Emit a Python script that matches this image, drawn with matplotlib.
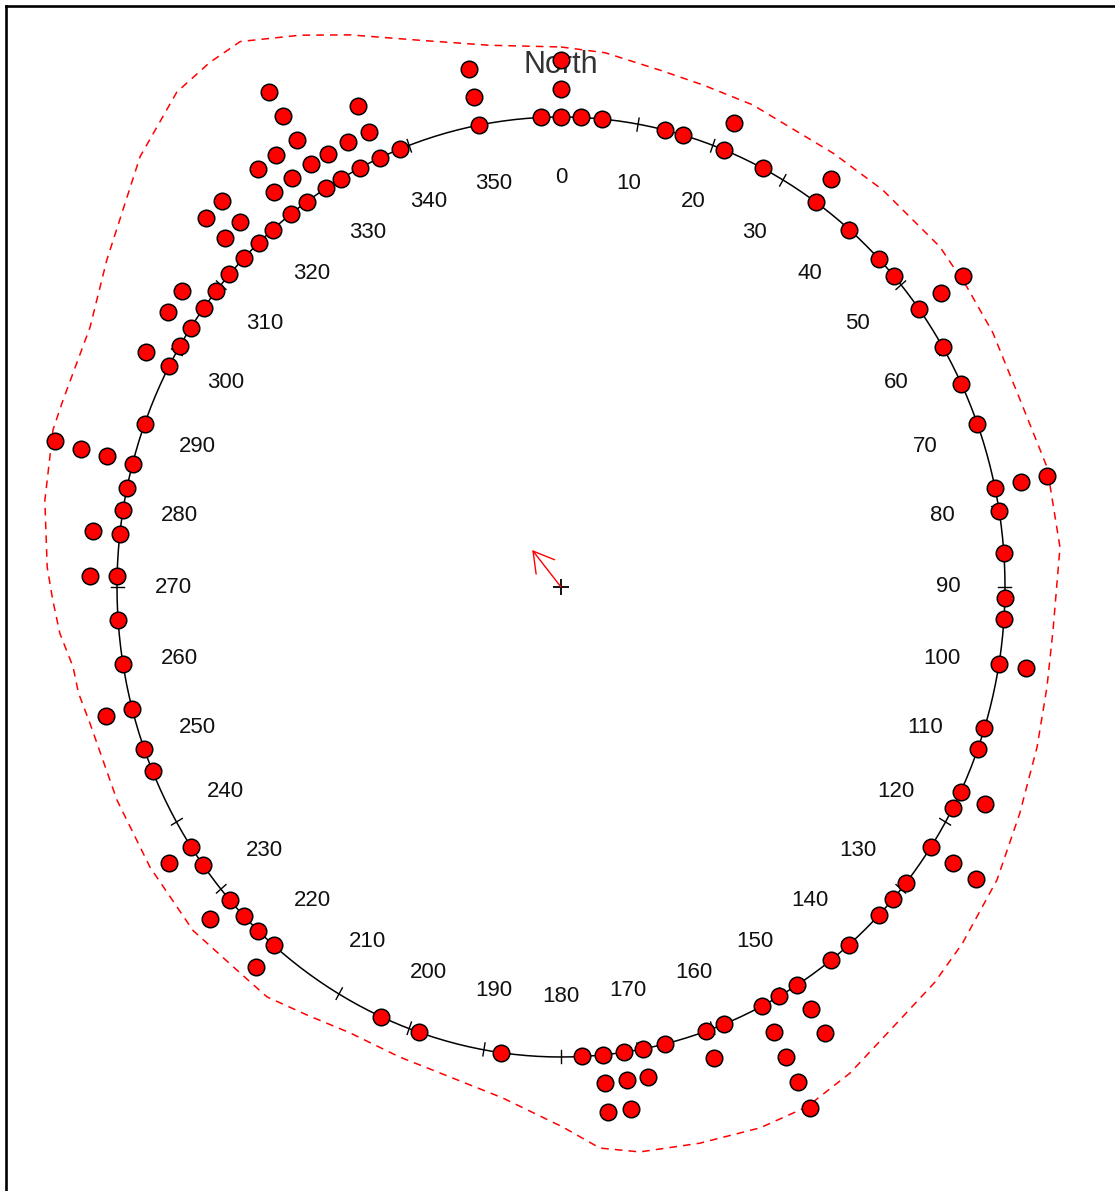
import numpy as np
import matplotlib
matplotlib.use("Agg")
import matplotlib.pyplot as plt
from matplotlib.lines import Line2D

plt.rcParams['font.family'] = ['Liberation Sans', 'DejaVu Sans']

# Observations (degrees, clockwise from North) and how many fall on each
angles = [0, 2.6, 5.3, 13.5, 16.0, 21.5, 27.0, 35.0, 40.5, 45.7, 48.5, 53.8,
          59.3, 64.4, 69.7, 77.8, 80.7, 85.9, 91.4, 93.9, 99.4, 107.5, 110.1,
          115.8, 118.1, 123.6, 129.0, 131.6, 134.3, 139.6, 142.5, 147.9, 150.6,
          153.1, 158.5, 161.0, 166.5, 169.3, 171.9, 174.6, 177.3, 187.8, 198.7,
          203.9, 220.3, 223.0, 225.6, 228.2, 233.7, 236.4, 246.9, 249.9, 255.0,
          260.6, 266.0, 271.3, 276.5, 279.4, 282.2, 285.2, 290.3, 298.1, 300.9,
          303.5, 306.4, 309.1, 311.7, 314.5, 317.1, 319.5, 322.5, 325.1, 328.0,
          330.3, 333.1, 335.9, 338.8, 349.3, 357.4]
counts = [3, 1, 1, 1, 1, 2, 1, 2, 1, 1, 1, 3,
          1, 1, 1, 3, 1, 1, 1, 1, 2, 1, 1,
          2, 1, 3, 1, 1, 1, 1, 1, 3, 1,
          5, 1, 2, 1, 2, 3, 3, 1, 1, 1,
          1, 2, 1, 1, 2, 1, 2, 1, 1, 2,
          1, 1, 2, 2, 1, 1, 4, 1, 2, 1,
          2, 2, 1, 1, 3, 3, 1, 3, 3, 5,
          2, 2, 3, 1, 3, 1]

# Density curve (angle, radius on the plot)
dens_deg = [0, 5, 11.5, 16.7, 22.8, 33.6, 40.6, 49.7, 55.1, 60.9, 68.9, 76.9,
            85.7, 94.7, 101, 107.6, 115, 122.4, 130, 135, 140.8, 147.8, 153.4,
            158.7, 165.2, 171.6, 175.8, 179.8, 186.9, 193.5, 200, 206.6, 212,
            217.2, 221.4, 228.6, 237.2, 245.6, 254.8, 258.3, 261.2, 265, 268.6,
            272.1, 279, 286.3, 289.5, 297.5, 304.2, 314, 320.6, 324.7, 328.1,
            333.4, 338, 344.7, 352]
dens_r = [1.149, 1.141, 1.122, 1.115, 1.113, 1.108, 1.113, 1.119, 1.115, 1.113,
          1.108, 1.124, 1.127, 1.112, 1.115, 1.125, 1.140, 1.163, 1.180, 1.190,
          1.197, 1.222, 1.237, 1.235, 1.224, 1.215, 1.197, 1.149, 1.095, 1.072,
          1.064, 1.061, 1.075, 1.095, 1.094, 1.105, 1.101, 1.098, 1.100, 1.110,
          1.112, 1.133, 1.145, 1.158, 1.177, 1.192, 1.190, 1.196, 1.237, 1.318,
          1.363, 1.368, 1.367, 1.313, 1.267, 1.206, 1.164]

# Mean resultant vector
mean_dir = 320.5
mean_rho = 0.102

tick_deg = list(range(0, 360, 10))
tick_labels = [str(d) for d in tick_deg]


def polar_xy(deg, r):
    t = np.radians(np.asarray(deg, dtype=float))
    return r * np.sin(t), r * np.cos(t)


fig = plt.figure(figsize=(11.15, 11.91), dpi=100)
ax = fig.add_axes([0, 0, 1, 1])
ax.set_xlim(-561 / 444, (1115 - 561) / 444)
ax.set_ylim((587 - 1191) / 470, 587 / 470)
ax.axis("off")

# frame (left and top edges only)
fig.add_artist(Line2D([5.5 / 1115, 5.5 / 1115], [0, 1 - 5.5 / 1191],
                      transform=fig.transFigure, color="black", lw=1.9))
fig.add_artist(Line2D([5.5 / 1115, 1], [1 - 5.5 / 1191, 1 - 5.5 / 1191],
                      transform=fig.transFigure, color="black", lw=1.9))

# unit circle
th = np.linspace(0, 360, 721)
cx, cy = polar_xy(th, 1.0)
ax.plot(cx, cy, color="black", lw=1.1, zorder=2)

# ticks and labels
for d, lab in zip(tick_deg, tick_labels):
    x0, y0 = polar_xy(d, 0.985)
    x1, y1 = polar_xy(d, 1.013)
    ax.plot([x0, x1], [y0, y1], color="black", lw=1.0, zorder=2)
    lx, ly = polar_xy(d, 0.872)
    ax.text(lx, ly, lab, ha="center", va="center", fontsize=16,
            color="#111111")

ax.text(0, 1.094, "North", ha="center", va="baseline", fontsize=22,
        color="#333333", zorder=1)

# stacked points
step = 0.0605
px, py = [], []
for a, c in zip(angles, counts):
    for k in range(c):
        x, y = polar_xy(a, 1 + k * step)
        px.append(x)
        py.append(y)
ax.plot(px, py, "o", ms=11.9, mfc="#FF0000", mec="black", mew=1.1,
        ls="none", zorder=4)

# density curve
dd = dens_deg + [dens_deg[0] + 360]
rr = dens_r + [dens_r[0]]
dx, dy = polar_xy(dd, np.array(rr))
ax.plot(dx, dy, color="#FF0000", lw=1.1, dashes=(5, 4), zorder=3)

# centre and mean vector
ax.plot([0], [0], "+", color="black", ms=11, mew=1.3, zorder=3)
ax_, ay_ = polar_xy(mean_dir, mean_rho)
ax.annotate("", xy=(ax_, ay_), xytext=(0, 0),
            arrowprops=dict(arrowstyle="->,head_length=0.72,head_width=0.42",
                            color="#FF0000", lw=1.0, mutation_scale=20,
                            shrinkA=0, shrinkB=0))

fig.savefig("out.png", dpi=100)
